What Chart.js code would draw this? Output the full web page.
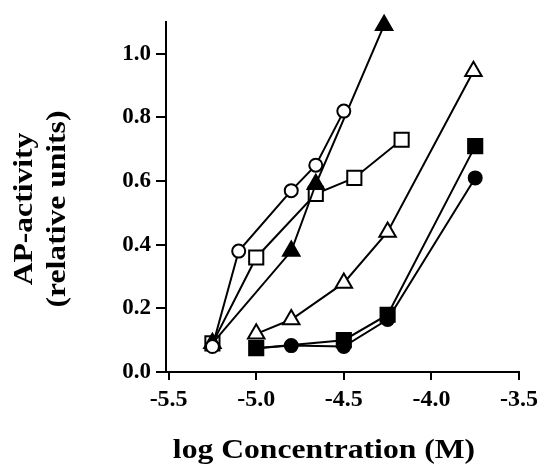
<!DOCTYPE html>
<html>
<head>
<meta charset="utf-8">
<script src="https://cdn.jsdelivr.net/npm/chart.js@4/dist/chart.umd.min.js"></script>
<style>
  html, body { margin: 0; padding: 0; background: #fff; }
  canvas { display: block; }
</style>
</head>
<body>
<canvas id="c" width="543" height="468"></canvas>
<script>
// ---- data ----
const xTicks = [-5.5, -5.0, -4.5, -4.0, -3.5];
const yTicks = [0.0, 0.2, 0.4, 0.6, 0.8, 1.0];

const openCircleX = [-5.25, -5.1, -4.8, -4.66, -4.5];
const openCircleY = [0.08, 0.38, 0.57, 0.65, 0.82];

const filledTriangleX = [-5.25, -4.8, -4.66, -4.27];
const filledTriangleY = [0.09, 0.38, 0.59, 1.09];

const openSquareX = [-5.25, -5.0, -4.66, -4.44, -4.17];
const openSquareY = [0.09, 0.36, 0.56, 0.61, 0.73];

const openTriangleX = [-5.0, -4.8, -4.5, -4.25, -3.76];
const openTriangleY = [0.12, 0.165, 0.28, 0.44, 0.945];

const filledSquareX = [-5.0, -4.5, -4.25, -3.75];
const filledSquareY = [0.075, 0.10, 0.18, 0.71];

const filledCircleX = [-5.0, -4.8, -4.5, -4.25, -3.75];
const filledCircleY = [0.075, 0.083, 0.08, 0.165, 0.61];

const xTitle = 'log Concentration (M)';
const yTitle = ['AP-activity', '(relative units)'];

// ---- build ----
const pts = (xs, ys) => xs.map((x, i) => ({ x: x, y: ys[i] }));
const FONT = '"Liberation Serif", "Times New Roman", serif';

function ds(label, xs, ys, style, radius, filled) {
  return {
    label: label,
    data: pts(xs, ys),
    showLine: true,
    clip: false,
    borderColor: '#000',
    borderWidth: 2,
    pointStyle: style,
    pointRadius: radius,
    pointHoverRadius: radius,
    pointBorderWidth: 2,
    pointBorderColor: '#000',
    pointBackgroundColor: filled ? '#000' : '#fff',
    fill: false,
    tension: 0
  };
}

const titlePlugin = {
  id: 'titles',
  afterDraw(chart) {
    const ctx = chart.ctx;
    ctx.save();
    ctx.fillStyle = '#000';
    ctx.textAlign = 'center';
    ctx.textBaseline = 'middle';
    // x title
    ctx.font = 'bold 28px ' + FONT;
    ctx.save();
    ctx.translate(324, 451);
    ctx.scale(1.13, 1);
    ctx.fillText(xTitle, 0, 0);
    ctx.restore();
    // y title (two lines)
    ctx.font = 'bold 27px ' + FONT;
    const cx = [25, 58];
    yTitle.forEach((t, i) => {
      ctx.save();
      ctx.translate(cx[i], 209);
      ctx.rotate(-Math.PI / 2);
      ctx.scale(1.17, 1);
      ctx.fillText(t, 0, 0);
      ctx.restore();
    });
    ctx.restore();
  }
};

new Chart(document.getElementById('c'), {
  type: 'scatter',
  data: {
    datasets: [
      ds('open circle', openCircleX, openCircleY, 'circle', 6.5, false),
      ds('filled triangle', filledTriangleX, filledTriangleY, 'triangle', 9.5, true),
      ds('open square', openSquareX, openSquareY, 'rect', 10, false),
      ds('open triangle', openTriangleX, openTriangleY, 'triangle', 9.5, false),
      ds('filled square', filledSquareX, filledSquareY, 'rect', 10, true),
      ds('filled circle', filledCircleX, filledCircleY, 'circle', 6.5, true)
    ]
  },
  options: {
    responsive: false,
    animation: false,
    events: [],
    layout: { padding: { left: 0, right: 20, top: 22, bottom: 0 } },
    plugins: { legend: { display: false }, tooltip: { enabled: false }, title: { display: false } },
    scales: {
      x: {
        type: 'linear',
        min: -5.515,
        max: -3.5,
        afterBuildTicks: s => { s.ticks = xTicks.map(v => ({ value: v })); },
        afterFit: s => { s.height = 96; },
        ticks: {
          callback: v => Number(v).toFixed(1),
          color: '#000',
          font: { family: FONT, size: 24, weight: 'bold' },
          padding: 5,
          maxRotation: 0,
          autoSkip: false
        },
        grid: { display: true, drawOnChartArea: false, drawTicks: true, tickLength: 8, color: '#000', lineWidth: 2 },
        border: { display: true, color: '#000', width: 2 }
      },
      y: {
        type: 'linear',
        min: 0,
        max: 1.1,
        afterBuildTicks: s => { s.ticks = yTicks.map(v => ({ value: v })); },
        afterFit: s => { s.width = 166; },
        ticks: {
          callback: v => Number(v).toFixed(1),
          color: '#000',
          font: { family: FONT, size: 23, weight: 'bold' },
          padding: 5,
          autoSkip: false
        },
        grid: { display: true, drawOnChartArea: false, drawTicks: true, tickLength: 10, color: '#000', lineWidth: 2 },
        border: { display: true, color: '#000', width: 2 }
      }
    }
  },
  plugins: [titlePlugin]
});
</script>
</body>
</html>
